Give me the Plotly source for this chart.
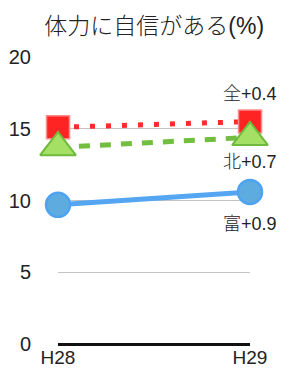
import plotly.graph_objects as go

years = ["H28", "H29"]
zen = [15.1, 15.5]
kita = [13.7, 14.4]
tomi = [9.7, 10.6]
end_labels = ["全+0.4", "北+0.7", "富+0.9"]
y_ticks = [0, 5, 10, 15, 20]

FONT = "Liberation Sans, Noto Sans CJK JP"

fig = go.Figure()
fig.add_trace(go.Scatter(
    x=years, y=tomi, mode="lines+markers", cliponaxis=False,
    line=dict(color="#55a6f2", width=5),
    marker=dict(symbol="circle", size=24, color="#5eacdf",
                line=dict(color="#4ea2f2", width=2.5)),
))
fig.add_trace(go.Scatter(
    x=years, y=zen, mode="lines+markers", cliponaxis=False,
    line=dict(color="#ff2a2a", width=5, dash="5px,11px"),
    marker=dict(symbol="square", size=23, color="#ff2424",
                line=dict(color="#ff8a8a", width=1.5)),
))
fig.add_trace(go.Scatter(
    x=years, y=kita, mode="lines+markers", cliponaxis=False,
    line=dict(color="#72be3e", width=5, dash="11px,10px"),
    marker=dict(symbol="triangle-up", size=31, color="#a3e063",
                line=dict(color="#6fba3c", width=2)),
))

series = [zen, kita, tomi]
shifts = [28, -25, -32]
for lab, s, sh in zip(end_labels, series, shifts):
    fig.add_annotation(x=years[1], y=s[1], xref="x", yref="y", text=lab,
                       showarrow=False, yshift=sh,
                       font=dict(family=FONT, size=18, color="#222", weight=300))

fig.update_layout(
    width=283, height=372,
    margin=dict(l=58, r=33, t=57, b=28, autoexpand=False),
    paper_bgcolor="white", plot_bgcolor="white",
    showlegend=False,
    title=dict(text="体力に自信がある(%)", x=0.545, xanchor="center",
               y=0.93, yanchor="middle",
               font=dict(family=FONT, size=23, color="#222", weight=300)),
    font=dict(family=FONT, color="#222"),
)
fig.update_xaxes(type="category", range=[0, 1], showgrid=False, automargin=False,
                 showline=False, zeroline=False, ticks="",
                 tickfont=dict(size=19, family=FONT, color="#222", weight=300))
fig.update_yaxes(range=[0, 20], tickvals=y_ticks, showgrid=True, automargin=False,
                 gridcolor="#c4c4c4", gridwidth=1, zeroline=True,
                 zerolinecolor="#111", zerolinewidth=3, showline=False,
                 ticks="outside", ticklen=22, tickcolor="rgba(0,0,0,0)",
                 tickfont=dict(size=20, family=FONT, color="#222", weight=300))

fig.write_html("out.html", config={"displayModeBar": False},
               post_script="document.body.style.margin='0';document.body.style.padding='0';")
